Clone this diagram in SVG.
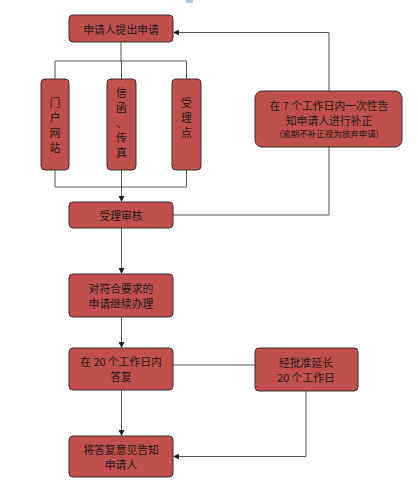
<svg xmlns="http://www.w3.org/2000/svg" width="418" height="496" viewBox="0 0 418 496">
<defs>
<marker id="ah" markerWidth="6" markerHeight="6" refX="5" refY="3" orient="auto" markerUnits="userSpaceOnUse">
<path d="M0,0 L6,3 L0,6 Z" fill="#222"/>
</marker>
<style>
.box{fill:#c0504d;stroke:#3d2b2b;stroke-width:1}
.t{font-family:"Noto Sans CJK SC","Liberation Sans",sans-serif;font-size:10.8px;fill:#1e1a1a;text-anchor:middle;dominant-baseline:central}
.s{font-size:8.5px}
.ln{fill:none;stroke:#555;stroke-width:1}
</style>
</defs>
<rect x="0" y="0" width="418" height="496" fill="#fff"/>
<rect x="186" y="0" width="7" height="3" fill="#b7c8e4"/>
<g id="connectors">
<path class="ln" d="M329,91 V32.5 H174" marker-end="url(#ah)"/>
<path class="ln" d="M121,42 V61 M55,79 V61 H186.5 V79 M121.5,61 V79"/>
<path class="ln" d="M55,170 V187 H186.5 V170 M121.5,170 V201" marker-end="url(#ah)"/>
<path class="ln" d="M173,215 H329 V147"/>
<path class="ln" d="M121.5,228 V273" marker-end="url(#ah)"/>
<path class="ln" d="M121.5,317 V347" marker-end="url(#ah)"/>
<path class="ln" d="M173,365 H255"/>
<path class="ln" d="M121.5,390 V435" marker-end="url(#ah)"/>
<path class="ln" d="M306,391 V456.5 H174" marker-end="url(#ah)"/>
</g>
<g id="n1"><rect class="box" x="69" y="15" width="104" height="27" rx="4"/><text class="t" x="121" y="28.5">申请人提出申请</text></g>
<g id="n2"><rect class="box" x="41" y="79" width="28" height="91" rx="4"/>
<text class="t" x="55" y="102">门</text><text class="t" x="55" y="117">户</text><text class="t" x="55" y="132">网</text><text class="t" x="55" y="147">站</text></g>
<g id="n3"><rect class="box" x="107" y="79" width="29" height="91" rx="4"/>
<text class="t" x="121.5" y="92">信</text><text class="t" x="121.5" y="107">函</text><text class="t" x="121.5" y="122">、</text><text class="t" x="121.5" y="137">传</text><text class="t" x="121.5" y="152">真</text></g>
<g id="n4"><rect class="box" x="172" y="79" width="29" height="91" rx="4"/>
<text class="t" x="186.5" y="102">受</text><text class="t" x="186.5" y="117">理</text><text class="t" x="186.5" y="132">点</text></g>
<g id="n5"><rect class="box" x="255" y="91" width="147" height="56" rx="7"/>
<text class="t" x="329" y="105">在 7 个工作日内一次性告</text>
<text class="t" x="329" y="119.5">知申请人进行补正</text>
<text class="t s" x="329" y="132.5">(逾期不补正视为放弃申请)</text></g>
<g id="n6"><rect class="box" x="69" y="202" width="104" height="26" rx="4"/><text class="t" x="121" y="215">受理审核</text></g>
<g id="n7"><rect class="box" x="69" y="274" width="104" height="43" rx="4"/>
<text class="t" x="121" y="287.5">对符合要求的</text><text class="t" x="121" y="302.5">申请继续办理</text></g>
<g id="n8"><rect class="box" x="69" y="348" width="104" height="42" rx="4"/>
<text class="t" x="121" y="361">在 20 个工作日内</text><text class="t" x="121" y="376">答复</text></g>
<g id="n9"><rect class="box" x="255" y="348" width="103" height="43" rx="4"/>
<text class="t" x="306" y="361.5">经批准延长</text><text class="t" x="306" y="376.5">20 个工作日</text></g>
<g id="n10"><rect class="box" x="69" y="436" width="104" height="41" rx="4"/>
<text class="t" x="121" y="449">将答复意见告知</text><text class="t" x="121" y="464">申请人</text></g>
</svg>
